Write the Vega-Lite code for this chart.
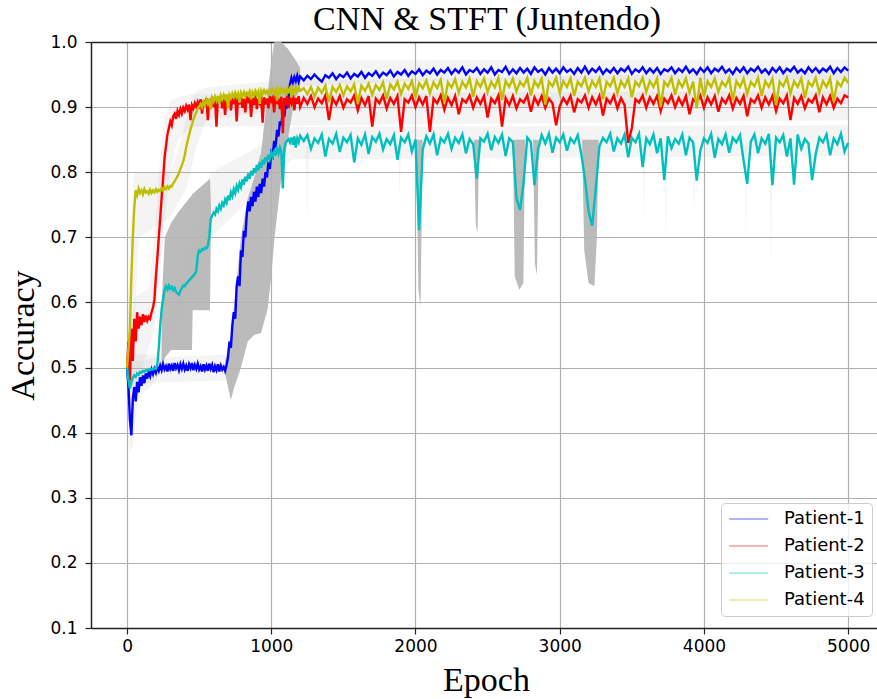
{
"$schema":"https://vega.github.io/schema/vega-lite/v6.json",
"width":786,"height":586,
"autosize":{"type":"none"},
"padding":{"left":91,"top":42,"right":0,"bottom":71},
"title":{"text":"CNN & STFT (Juntendo)","font":"Liberation Serif","fontSize":34,"fontWeight":"normal","color":"#000","anchor":"middle","offset":-4,"dx":3},
"config":{
"view":{"stroke":null},
"axis":{"domainColor":"#222","domainWidth":1.5,"tickColor":"#222","tickWidth":1.2,"tickSize":6,"gridColor":"#b0b0b0","gridWidth":1.2,"labelFont":"DejaVu Sans","labelFontSize":17,"labelColor":"#000","titleFont":"Liberation Serif","titleFontSize":34,"titleFontWeight":"normal","titleColor":"#000","labelFlush":false}
},
"datasets":{
"acc":[
{"e":0,"P1":0.500,"P2":0.500,"P3":0.500,"P4":0.500},
{"e":10,"P1":0.470,"P2":0.540,"P3":0.480,"P4":0.530},
{"e":20,"P1":0.420,"P2":0.480,"P3":0.468,"P4":0.560},
{"e":30,"P1":0.396,"P2":0.560,"P3":0.478,"P4":0.640},
{"e":40,"P1":0.452,"P2":0.510,"P3":0.484,"P4":0.700},
{"e":50,"P1":0.470,"P2":0.575,"P3":0.488,"P4":0.745},
{"e":60,"P1":0.448,"P2":0.540,"P3":0.486,"P4":0.772},
{"e":70,"P1":0.478,"P2":0.585,"P3":0.491,"P4":0.765},
{"e":80,"P1":0.462,"P2":0.560,"P3":0.489,"P4":0.775},
{"e":90,"P1":0.485,"P2":0.578,"P3":0.493,"P4":0.768},
{"e":100,"P1":0.472,"P2":0.565,"P3":0.492,"P4":0.772},
{"e":110,"P1":0.488,"P2":0.582,"P3":0.495,"P4":0.766},
{"e":120,"P1":0.476,"P2":0.570,"P3":0.494,"P4":0.774},
{"e":130,"P1":0.491,"P2":0.580,"P3":0.496,"P4":0.769},
{"e":140,"P1":0.483,"P2":0.572,"P3":0.495,"P4":0.771},
{"e":150,"P1":0.494,"P2":0.578,"P3":0.497,"P4":0.767},
{"e":160,"P1":0.487,"P2":0.575,"P3":0.496,"P4":0.773},
{"e":170,"P1":0.497,"P2":0.585,"P3":0.498,"P4":0.768},
{"e":180,"P1":0.490,"P2":0.592,"P3":0.497,"P4":0.772},
{"e":190,"P1":0.498,"P2":0.605,"P3":0.499,"P4":0.769},
{"e":200,"P1":0.492,"P2":0.640,"P3":0.498,"P4":0.774},
{"e":210,"P1":0.501,"P2":0.668,"P3":0.505,"P4":0.770},
{"e":220,"P1":0.495,"P2":0.700,"P3":0.530,"P4":0.773},
{"e":230,"P1":0.503,"P2":0.730,"P3":0.565,"P4":0.771},
{"e":240,"P1":0.496,"P2":0.762,"P3":0.590,"P4":0.776},
{"e":250,"P1":0.505,"P2":0.790,"P3":0.605,"P4":0.772},
{"e":260,"P1":0.497,"P2":0.822,"P3":0.618,"P4":0.777},
{"e":270,"P1":0.502,"P2":0.840,"P3":0.625,"P4":0.774},
{"e":280,"P1":0.494,"P2":0.858,"P3":0.620,"P4":0.778},
{"e":290,"P1":0.506,"P2":0.868,"P3":0.626,"P4":0.775},
{"e":300,"P1":0.498,"P2":0.878,"P3":0.621,"P4":0.779},
{"e":310,"P1":0.503,"P2":0.872,"P3":0.624,"P4":0.778},
{"e":320,"P1":0.495,"P2":0.886,"P3":0.619,"P4":0.783},
{"e":330,"P1":0.507,"P2":0.890,"P3":0.622,"P4":0.786},
{"e":340,"P1":0.499,"P2":0.882,"P3":0.616,"P4":0.790},
{"e":350,"P1":0.504,"P2":0.894,"P3":0.614,"P4":0.794},
{"e":360,"P1":0.496,"P2":0.888,"P3":0.612,"P4":0.799},
{"e":370,"P1":0.505,"P2":0.897,"P3":0.618,"P4":0.805},
{"e":380,"P1":0.498,"P2":0.890,"P3":0.622,"P4":0.811},
{"e":390,"P1":0.506,"P2":0.899,"P3":0.626,"P4":0.817},
{"e":400,"P1":0.497,"P2":0.894,"P3":0.625,"P4":0.826},
{"e":410,"P1":0.503,"P2":0.902,"P3":0.629,"P4":0.838},
{"e":420,"P1":0.495,"P2":0.896,"P3":0.631,"P4":0.848},
{"e":430,"P1":0.505,"P2":0.904,"P3":0.634,"P4":0.857},
{"e":440,"P1":0.499,"P2":0.880,"P3":0.636,"P4":0.866},
{"e":450,"P1":0.507,"P2":0.903,"P3":0.639,"P4":0.873},
{"e":460,"P1":0.496,"P2":0.898,"P3":0.641,"P4":0.881},
{"e":470,"P1":0.504,"P2":0.906,"P3":0.644,"P4":0.887},
{"e":480,"P1":0.498,"P2":0.900,"P3":0.648,"P4":0.892},
{"e":490,"P1":0.506,"P2":0.908,"P3":0.672,"P4":0.898},
{"e":500,"P1":0.497,"P2":0.902,"P3":0.680,"P4":0.901},
{"e":510,"P1":0.502,"P2":0.912,"P3":0.678,"P4":0.905},
{"e":520,"P1":0.494,"P2":0.890,"P3":0.682,"P4":0.900},
{"e":530,"P1":0.505,"P2":0.910,"P3":0.681,"P4":0.908},
{"e":540,"P1":0.497,"P2":0.903,"P3":0.684,"P4":0.903},
{"e":550,"P1":0.503,"P2":0.914,"P3":0.683,"P4":0.911},
{"e":560,"P1":0.495,"P2":0.880,"P3":0.687,"P4":0.905},
{"e":570,"P1":0.506,"P2":0.912,"P3":0.700,"P4":0.913},
{"e":580,"P1":0.498,"P2":0.905,"P3":0.728,"P4":0.896},
{"e":590,"P1":0.504,"P2":0.916,"P3":0.733,"P4":0.914},
{"e":600,"P1":0.493,"P2":0.900,"P3":0.738,"P4":0.909},
{"e":610,"P1":0.502,"P2":0.913,"P3":0.735,"P4":0.916},
{"e":620,"P1":0.496,"P2":0.870,"P3":0.744,"P4":0.910},
{"e":630,"P1":0.505,"P2":0.915,"P3":0.740,"P4":0.917},
{"e":640,"P1":0.494,"P2":0.906,"P3":0.749,"P4":0.905},
{"e":650,"P1":0.503,"P2":0.917,"P3":0.744,"P4":0.918},
{"e":660,"P1":0.497,"P2":0.898,"P3":0.753,"P4":0.912},
{"e":670,"P1":0.501,"P2":0.912,"P3":0.749,"P4":0.919},
{"e":680,"P1":0.495,"P2":0.888,"P3":0.758,"P4":0.913},
{"e":690,"P1":0.504,"P2":0.916,"P3":0.753,"P4":0.920},
{"e":700,"P1":0.515,"P2":0.907,"P3":0.764,"P4":0.898},
{"e":710,"P1":0.540,"P2":0.918,"P3":0.757,"P4":0.919},
{"e":720,"P1":0.530,"P2":0.895,"P3":0.769,"P4":0.914},
{"e":730,"P1":0.565,"P2":0.914,"P3":0.763,"P4":0.921},
{"e":740,"P1":0.585,"P2":0.905,"P3":0.774,"P4":0.915},
{"e":750,"P1":0.575,"P2":0.917,"P3":0.768,"P4":0.922},
{"e":760,"P1":0.625,"P2":0.878,"P3":0.779,"P4":0.916},
{"e":770,"P1":0.640,"P2":0.915,"P3":0.773,"P4":0.921},
{"e":780,"P1":0.625,"P2":0.904,"P3":0.783,"P4":0.907},
{"e":790,"P1":0.680,"P2":0.918,"P3":0.777,"P4":0.922},
{"e":800,"P1":0.670,"P2":0.899,"P3":0.789,"P4":0.917},
{"e":810,"P1":0.710,"P2":0.913,"P3":0.781,"P4":0.923},
{"e":820,"P1":0.700,"P2":0.892,"P3":0.793,"P4":0.916},
{"e":830,"P1":0.735,"P2":0.917,"P3":0.786,"P4":0.922},
{"e":840,"P1":0.755,"P2":0.906,"P3":0.798,"P4":0.918},
{"e":850,"P1":0.740,"P2":0.915,"P3":0.790,"P4":0.924},
{"e":860,"P1":0.762,"P2":0.885,"P3":0.802,"P4":0.912},
{"e":870,"P1":0.748,"P2":0.914,"P3":0.795,"P4":0.923},
{"e":880,"P1":0.770,"P2":0.903,"P3":0.806,"P4":0.918},
{"e":890,"P1":0.755,"P2":0.918,"P3":0.799,"P4":0.925},
{"e":900,"P1":0.778,"P2":0.897,"P3":0.811,"P4":0.919},
{"e":910,"P1":0.762,"P2":0.912,"P3":0.803,"P4":0.924},
{"e":920,"P1":0.782,"P2":0.906,"P3":0.815,"P4":0.905},
{"e":930,"P1":0.768,"P2":0.917,"P3":0.807,"P4":0.925},
{"e":940,"P1":0.790,"P2":0.876,"P3":0.819,"P4":0.920},
{"e":950,"P1":0.778,"P2":0.915,"P3":0.812,"P4":0.926},
{"e":960,"P1":0.800,"P2":0.904,"P3":0.823,"P4":0.921},
{"e":970,"P1":0.792,"P2":0.913,"P3":0.816,"P4":0.925},
{"e":980,"P1":0.815,"P2":0.898,"P3":0.827,"P4":0.919},
{"e":990,"P1":0.805,"P2":0.917,"P3":0.820,"P4":0.926},
{"e":1000,"P1":0.830,"P2":0.909,"P3":0.830,"P4":0.922},
{"e":1010,"P1":0.825,"P2":0.914,"P3":0.824,"P4":0.927},
{"e":1020,"P1":0.848,"P2":0.892,"P3":0.834,"P4":0.921},
{"e":1030,"P1":0.838,"P2":0.918,"P3":0.826,"P4":0.926},
{"e":1040,"P1":0.865,"P2":0.905,"P3":0.836,"P4":0.910},
{"e":1050,"P1":0.855,"P2":0.913,"P3":0.829,"P4":0.927},
{"e":1060,"P1":0.878,"P2":0.897,"P3":0.838,"P4":0.922},
{"e":1070,"P1":0.872,"P2":0.916,"P3":0.831,"P4":0.928},
{"e":1080,"P1":0.895,"P2":0.860,"P3":0.775,"P4":0.923},
{"e":1090,"P1":0.885,"P2":0.914,"P3":0.836,"P4":0.927},
{"e":1100,"P1":0.905,"P2":0.903,"P3":0.846,"P4":0.921},
{"e":1110,"P1":0.898,"P2":0.917,"P3":0.848,"P4":0.928},
{"e":1120,"P1":0.915,"P2":0.899,"P3":0.851,"P4":0.924},
{"e":1130,"P1":0.935,"P2":0.912,"P3":0.846,"P4":0.929},
{"e":1140,"P1":0.945,"P2":0.906,"P3":0.853,"P4":0.915},
{"e":1150,"P1":0.938,"P2":0.918,"P3":0.842,"P4":0.928},
{"e":1160,"P1":0.946,"P2":0.895,"P3":0.855,"P4":0.923},
{"e":1170,"P1":0.940,"P2":0.914,"P3":0.838,"P4":0.929},
{"e":1180,"P1":0.948,"P2":0.905,"P3":0.852,"P4":0.924},
{"e":1190,"P1":0.939,"P2":0.917,"P3":0.846,"P4":0.930},
{"e":1200,"P1":0.947,"P2":0.900,"P3":0.856,"P4":0.925},
{"e":1225,"P1":0.941,"P2":0.914,"P3":0.848,"P4":0.929},
{"e":1250,"P1":0.948,"P2":0.905,"P3":0.857,"P4":0.920},
{"e":1275,"P1":0.943,"P2":0.917,"P3":0.836,"P4":0.931},
{"e":1300,"P1":0.950,"P2":0.900,"P3":0.852,"P4":0.916},
{"e":1325,"P1":0.944,"P2":0.913,"P3":0.845,"P4":0.930},
{"e":1350,"P1":0.939,"P2":0.906,"P3":0.858,"P4":0.922},
{"e":1375,"P1":0.949,"P2":0.918,"P3":0.824,"P4":0.933},
{"e":1400,"P1":0.945,"P2":0.880,"P3":0.851,"P4":0.908},
{"e":1425,"P1":0.952,"P2":0.914,"P3":0.844,"P4":0.931},
{"e":1450,"P1":0.943,"P2":0.904,"P3":0.859,"P4":0.923},
{"e":1475,"P1":0.950,"P2":0.917,"P3":0.831,"P4":0.934},
{"e":1500,"P1":0.946,"P2":0.899,"P3":0.853,"P4":0.918},
{"e":1525,"P1":0.953,"P2":0.912,"P3":0.846,"P4":0.932},
{"e":1550,"P1":0.944,"P2":0.907,"P3":0.857,"P4":0.924},
{"e":1575,"P1":0.951,"P2":0.918,"P3":0.815,"P4":0.935},
{"e":1600,"P1":0.947,"P2":0.895,"P3":0.852,"P4":0.905},
{"e":1625,"P1":0.954,"P2":0.914,"P3":0.842,"P4":0.933},
{"e":1650,"P1":0.945,"P2":0.903,"P3":0.858,"P4":0.925},
{"e":1675,"P1":0.952,"P2":0.917,"P3":0.828,"P4":0.936},
{"e":1700,"P1":0.948,"P2":0.870,"P3":0.854,"P4":0.919},
{"e":1725,"P1":0.955,"P2":0.913,"P3":0.847,"P4":0.934},
{"e":1750,"P1":0.946,"P2":0.906,"P3":0.859,"P4":0.926},
{"e":1775,"P1":0.953,"P2":0.918,"P3":0.835,"P4":0.938},
{"e":1800,"P1":0.949,"P2":0.898,"P3":0.851,"P4":0.912},
{"e":1825,"P1":0.956,"P2":0.914,"P3":0.843,"P4":0.935},
{"e":1850,"P1":0.947,"P2":0.905,"P3":0.857,"P4":0.927},
{"e":1875,"P1":0.954,"P2":0.917,"P3":0.819,"P4":0.939},
{"e":1900,"P1":0.950,"P2":0.862,"P3":0.853,"P4":0.920},
{"e":1925,"P1":0.957,"P2":0.912,"P3":0.846,"P4":0.936},
{"e":1950,"P1":0.948,"P2":0.907,"P3":0.858,"P4":0.928},
{"e":1975,"P1":0.955,"P2":0.918,"P3":0.832,"P4":0.940},
{"e":2000,"P1":0.951,"P2":0.900,"P3":0.850,"P4":0.915},
{"e":2025,"P1":0.958,"P2":0.915,"P3":0.711,"P4":0.937},
{"e":2050,"P1":0.949,"P2":0.904,"P3":0.835,"P4":0.929},
{"e":2075,"P1":0.956,"P2":0.917,"P3":0.855,"P4":0.941},
{"e":2100,"P1":0.952,"P2":0.862,"P3":0.844,"P4":0.921},
{"e":2125,"P1":0.959,"P2":0.913,"P3":0.858,"P4":0.938},
{"e":2150,"P1":0.950,"P2":0.906,"P3":0.826,"P4":0.929},
{"e":2175,"P1":0.957,"P2":0.918,"P3":0.852,"P4":0.942},
{"e":2200,"P1":0.953,"P2":0.896,"P3":0.846,"P4":0.906},
{"e":2225,"P1":0.960,"P2":0.914,"P3":0.859,"P4":0.938},
{"e":2250,"P1":0.951,"P2":0.903,"P3":0.836,"P4":0.930},
{"e":2275,"P1":0.958,"P2":0.917,"P3":0.853,"P4":0.943},
{"e":2300,"P1":0.953,"P2":0.889,"P3":0.845,"P4":0.922},
{"e":2325,"P1":0.961,"P2":0.912,"P3":0.858,"P4":0.939},
{"e":2350,"P1":0.950,"P2":0.907,"P3":0.829,"P4":0.930},
{"e":2375,"P1":0.957,"P2":0.918,"P3":0.851,"P4":0.944},
{"e":2400,"P1":0.954,"P2":0.899,"P3":0.843,"P4":0.916},
{"e":2425,"P1":0.960,"P2":0.915,"P3":0.790,"P4":0.940},
{"e":2450,"P1":0.951,"P2":0.905,"P3":0.852,"P4":0.931},
{"e":2475,"P1":0.958,"P2":0.917,"P3":0.847,"P4":0.944},
{"e":2500,"P1":0.953,"P2":0.884,"P3":0.859,"P4":0.923},
{"e":2525,"P1":0.961,"P2":0.913,"P3":0.834,"P4":0.939},
{"e":2550,"P1":0.950,"P2":0.906,"P3":0.854,"P4":0.930},
{"e":2575,"P1":0.957,"P2":0.918,"P3":0.845,"P4":0.945},
{"e":2600,"P1":0.954,"P2":0.870,"P3":0.858,"P4":0.911},
{"e":2625,"P1":0.962,"P2":0.914,"P3":0.825,"P4":0.940},
{"e":2650,"P1":0.951,"P2":0.903,"P3":0.852,"P4":0.931},
{"e":2675,"P1":0.958,"P2":0.917,"P3":0.846,"P4":0.944},
{"e":2700,"P1":0.952,"P2":0.898,"P3":0.760,"P4":0.924},
{"e":2725,"P1":0.960,"P2":0.912,"P3":0.742,"P4":0.939},
{"e":2750,"P1":0.953,"P2":0.907,"P3":0.785,"P4":0.932},
{"e":2775,"P1":0.959,"P2":0.918,"P3":0.853,"P4":0.945},
{"e":2800,"P1":0.951,"P2":0.893,"P3":0.846,"P4":0.918},
{"e":2825,"P1":0.961,"P2":0.915,"P3":0.780,"P4":0.940},
{"e":2850,"P1":0.954,"P2":0.904,"P3":0.835,"P4":0.931},
{"e":2875,"P1":0.958,"P2":0.917,"P3":0.857,"P4":0.944},
{"e":2900,"P1":0.950,"P2":0.899,"P3":0.844,"P4":0.904},
{"e":2925,"P1":0.960,"P2":0.913,"P3":0.859,"P4":0.939},
{"e":2950,"P1":0.953,"P2":0.906,"P3":0.830,"P4":0.932},
{"e":2975,"P1":0.959,"P2":0.872,"P3":0.853,"P4":0.945},
{"e":3000,"P1":0.952,"P2":0.901,"P3":0.846,"P4":0.922},
{"e":3025,"P1":0.961,"P2":0.914,"P3":0.858,"P4":0.940},
{"e":3050,"P1":0.954,"P2":0.905,"P3":0.833,"P4":0.931},
{"e":3075,"P1":0.958,"P2":0.917,"P3":0.852,"P4":0.944},
{"e":3100,"P1":0.951,"P2":0.892,"P3":0.845,"P4":0.917},
{"e":3125,"P1":0.960,"P2":0.912,"P3":0.857,"P4":0.939},
{"e":3150,"P1":0.953,"P2":0.907,"P3":0.827,"P4":0.932},
{"e":3175,"P1":0.962,"P2":0.918,"P3":0.790,"P4":0.945},
{"e":3200,"P1":0.952,"P2":0.899,"P3":0.740,"P4":0.924},
{"e":3225,"P1":0.959,"P2":0.915,"P3":0.718,"P4":0.940},
{"e":3250,"P1":0.954,"P2":0.904,"P3":0.775,"P4":0.931},
{"e":3275,"P1":0.961,"P2":0.917,"P3":0.840,"P4":0.944},
{"e":3300,"P1":0.951,"P2":0.887,"P3":0.853,"P4":0.912},
{"e":3325,"P1":0.958,"P2":0.913,"P3":0.846,"P4":0.939},
{"e":3350,"P1":0.953,"P2":0.906,"P3":0.859,"P4":0.932},
{"e":3375,"P1":0.960,"P2":0.918,"P3":0.832,"P4":0.945},
{"e":3400,"P1":0.952,"P2":0.898,"P3":0.852,"P4":0.921},
{"e":3425,"P1":0.959,"P2":0.914,"P3":0.844,"P4":0.940},
{"e":3450,"P1":0.955,"P2":0.903,"P3":0.858,"P4":0.931},
{"e":3475,"P1":0.962,"P2":0.845,"P3":0.823,"P4":0.944},
{"e":3500,"P1":0.951,"P2":0.868,"P3":0.853,"P4":0.915},
{"e":3525,"P1":0.958,"P2":0.912,"P3":0.846,"P4":0.939},
{"e":3550,"P1":0.954,"P2":0.907,"P3":0.859,"P4":0.932},
{"e":3575,"P1":0.961,"P2":0.918,"P3":0.808,"P4":0.945},
{"e":3600,"P1":0.952,"P2":0.899,"P3":0.852,"P4":0.923},
{"e":3625,"P1":0.959,"P2":0.915,"P3":0.843,"P4":0.940},
{"e":3650,"P1":0.953,"P2":0.905,"P3":0.858,"P4":0.931},
{"e":3675,"P1":0.960,"P2":0.917,"P3":0.829,"P4":0.944},
{"e":3700,"P1":0.951,"P2":0.894,"P3":0.852,"P4":0.900},
{"e":3725,"P1":0.958,"P2":0.913,"P3":0.788,"P4":0.939},
{"e":3750,"P1":0.955,"P2":0.906,"P3":0.855,"P4":0.932},
{"e":3775,"P1":0.961,"P2":0.918,"P3":0.837,"P4":0.945},
{"e":3800,"P1":0.952,"P2":0.900,"P3":0.851,"P4":0.919},
{"e":3825,"P1":0.959,"P2":0.914,"P3":0.844,"P4":0.940},
{"e":3850,"P1":0.954,"P2":0.903,"P3":0.858,"P4":0.931},
{"e":3875,"P1":0.962,"P2":0.917,"P3":0.826,"P4":0.944},
{"e":3900,"P1":0.953,"P2":0.889,"P3":0.853,"P4":0.922},
{"e":3925,"P1":0.958,"P2":0.912,"P3":0.846,"P4":0.939},
{"e":3950,"P1":0.951,"P2":0.907,"P3":0.787,"P4":0.898},
{"e":3975,"P1":0.960,"P2":0.918,"P3":0.833,"P4":0.945},
{"e":4000,"P1":0.954,"P2":0.899,"P3":0.852,"P4":0.916},
{"e":4025,"P1":0.961,"P2":0.915,"P3":0.845,"P4":0.940},
{"e":4050,"P1":0.952,"P2":0.904,"P3":0.859,"P4":0.931},
{"e":4075,"P1":0.959,"P2":0.917,"P3":0.822,"P4":0.944},
{"e":4100,"P1":0.955,"P2":0.893,"P3":0.851,"P4":0.923},
{"e":4125,"P1":0.962,"P2":0.913,"P3":0.843,"P4":0.939},
{"e":4150,"P1":0.953,"P2":0.906,"P3":0.858,"P4":0.932},
{"e":4175,"P1":0.958,"P2":0.918,"P3":0.830,"P4":0.945},
{"e":4200,"P1":0.951,"P2":0.898,"P3":0.853,"P4":0.910},
{"e":4225,"P1":0.960,"P2":0.914,"P3":0.846,"P4":0.940},
{"e":4250,"P1":0.954,"P2":0.905,"P3":0.857,"P4":0.931},
{"e":4275,"P1":0.961,"P2":0.917,"P3":0.818,"P4":0.944},
{"e":4300,"P1":0.952,"P2":0.886,"P3":0.782,"P4":0.920},
{"e":4325,"P1":0.959,"P2":0.912,"P3":0.847,"P4":0.939},
{"e":4350,"P1":0.955,"P2":0.907,"P3":0.858,"P4":0.932},
{"e":4375,"P1":0.962,"P2":0.918,"P3":0.829,"P4":0.945},
{"e":4400,"P1":0.953,"P2":0.899,"P3":0.852,"P4":0.917},
{"e":4425,"P1":0.958,"P2":0.915,"P3":0.844,"P4":0.940},
{"e":4450,"P1":0.951,"P2":0.904,"P3":0.859,"P4":0.931},
{"e":4475,"P1":0.960,"P2":0.917,"P3":0.780,"P4":0.944},
{"e":4500,"P1":0.954,"P2":0.894,"P3":0.853,"P4":0.903},
{"e":4525,"P1":0.961,"P2":0.913,"P3":0.846,"P4":0.939},
{"e":4550,"P1":0.952,"P2":0.906,"P3":0.857,"P4":0.932},
{"e":4575,"P1":0.959,"P2":0.918,"P3":0.824,"P4":0.945},
{"e":4600,"P1":0.955,"P2":0.880,"P3":0.852,"P4":0.921},
{"e":4625,"P1":0.962,"P2":0.914,"P3":0.781,"P4":0.940},
{"e":4650,"P1":0.953,"P2":0.905,"P3":0.858,"P4":0.931},
{"e":4675,"P1":0.958,"P2":0.917,"P3":0.836,"P4":0.944},
{"e":4700,"P1":0.952,"P2":0.898,"P3":0.851,"P4":0.914},
{"e":4725,"P1":0.961,"P2":0.912,"P3":0.844,"P4":0.939},
{"e":4750,"P1":0.954,"P2":0.907,"P3":0.788,"P4":0.932},
{"e":4775,"P1":0.960,"P2":0.918,"P3":0.828,"P4":0.945},
{"e":4800,"P1":0.953,"P2":0.892,"P3":0.853,"P4":0.922},
{"e":4825,"P1":0.959,"P2":0.915,"P3":0.846,"P4":0.940},
{"e":4850,"P1":0.955,"P2":0.904,"P3":0.858,"P4":0.931},
{"e":4875,"P1":0.962,"P2":0.917,"P3":0.826,"P4":0.944},
{"e":4900,"P1":0.952,"P2":0.899,"P3":0.852,"P4":0.908},
{"e":4925,"P1":0.960,"P2":0.913,"P3":0.843,"P4":0.939},
{"e":4950,"P1":0.954,"P2":0.906,"P3":0.859,"P4":0.932},
{"e":4975,"P1":0.961,"P2":0.918,"P3":0.832,"P4":0.945},
{"e":5000,"P1":0.956,"P2":0.915,"P3":0.845,"P4":0.937}
],
"band":[
{"k":"h","g":"h1a","e":0,"lo":0.47,"hi":0.52},
{"k":"h","g":"h1a","e":20,"lo":0.37,"hi":0.50},
{"k":"h","g":"h1a","e":40,"lo":0.38,"hi":0.51},
{"k":"h","g":"h1a","e":70,"lo":0.44,"hi":0.51},
{"k":"h","g":"h1a","e":100,"lo":0.46,"hi":0.51},
{"k":"h","g":"h1a","e":200,"lo":0.477,"hi":0.515},
{"k":"h","g":"h1a","e":690,"lo":0.48,"hi":0.52},
{"k":"h","g":"h1b","e":1160,"lo":0.925,"hi":0.975},
{"k":"h","g":"h1b","e":1200,"lo":0.932,"hi":0.972},
{"k":"h","g":"h1b","e":2000,"lo":0.94,"hi":0.972},
{"k":"h","g":"h1b","e":5000,"lo":0.942,"hi":0.973},
{"k":"h","g":"h2","e":0,"lo":0.47,"hi":0.54},
{"k":"h","g":"h2","e":60,"lo":0.47,"hi":0.61},
{"k":"h","g":"h2","e":150,"lo":0.53,"hi":0.62},
{"k":"h","g":"h2","e":190,"lo":0.56,"hi":0.70},
{"k":"h","g":"h2","e":220,"lo":0.62,"hi":0.80},
{"k":"h","g":"h2","e":260,"lo":0.72,"hi":0.88},
{"k":"h","g":"h2","e":300,"lo":0.80,"hi":0.91},
{"k":"h","g":"h2","e":350,"lo":0.85,"hi":0.915},
{"k":"h","g":"h2","e":450,"lo":0.87,"hi":0.92},
{"k":"h","g":"h2","e":5000,"lo":0.88,"hi":0.925},
{"k":"h","g":"h4","e":0,"lo":0.47,"hi":0.53},
{"k":"h","g":"h4","e":25,"lo":0.47,"hi":0.72},
{"k":"h","g":"h4","e":50,"lo":0.55,"hi":0.80},
{"k":"h","g":"h4","e":80,"lo":0.70,"hi":0.80},
{"k":"h","g":"h4","e":300,"lo":0.73,"hi":0.80},
{"k":"h","g":"h4","e":350,"lo":0.75,"hi":0.83},
{"k":"h","g":"h4","e":420,"lo":0.78,"hi":0.89},
{"k":"h","g":"h4","e":480,"lo":0.84,"hi":0.925},
{"k":"h","g":"h4","e":550,"lo":0.88,"hi":0.93},
{"k":"h","g":"h4","e":1000,"lo":0.895,"hi":0.94},
{"k":"h","g":"h4","e":5000,"lo":0.905,"hi":0.955},
{"k":"h","g":"h3","e":0,"lo":0.46,"hi":0.52},
{"k":"h","g":"h3","e":200,"lo":0.48,"hi":0.52},
{"k":"h","g":"h3","e":582,"lo":0.70,"hi":0.80},
{"k":"h","g":"h3","e":1000,"lo":0.79,"hi":0.85},
{"k":"h","g":"h3","e":1150,"lo":0.82,"hi":0.87},
{"k":"h","g":"h3","e":5000,"lo":0.825,"hi":0.872},
{"k":"h","g":"s1","e":1240,"lo":0.84,"hi":0.84},
{"k":"h","g":"s1","e":1250,"lo":0.72,"hi":0.84},
{"k":"h","g":"s1","e":1260,"lo":0.84,"hi":0.84},
{"k":"h","g":"s2","e":1880,"lo":0.84,"hi":0.84},
{"k":"h","g":"s2","e":1890,"lo":0.76,"hi":0.84},
{"k":"h","g":"s2","e":1900,"lo":0.84,"hi":0.84},
{"k":"h","g":"s3","e":3575,"lo":0.84,"hi":0.84},
{"k":"h","g":"s3","e":3585,"lo":0.727,"hi":0.84},
{"k":"h","g":"s3","e":3595,"lo":0.84,"hi":0.84},
{"k":"h","g":"s4","e":3727,"lo":0.84,"hi":0.84},
{"k":"h","g":"s4","e":3737,"lo":0.685,"hi":0.84},
{"k":"h","g":"s4","e":3747,"lo":0.84,"hi":0.84},
{"k":"h","g":"s5","e":3922,"lo":0.84,"hi":0.84},
{"k":"h","g":"s5","e":3932,"lo":0.73,"hi":0.84},
{"k":"h","g":"s5","e":3942,"lo":0.84,"hi":0.84},
{"k":"h","g":"s6","e":4281,"lo":0.84,"hi":0.84},
{"k":"h","g":"s6","e":4291,"lo":0.69,"hi":0.84},
{"k":"h","g":"s6","e":4301,"lo":0.84,"hi":0.84},
{"k":"h","g":"s7","e":4455,"lo":0.84,"hi":0.84},
{"k":"h","g":"s7","e":4465,"lo":0.645,"hi":0.84},
{"k":"h","g":"s7","e":4475,"lo":0.84,"hi":0.84},
{"k":"s","g":"b1","e":680,"lo":0.49,"hi":0.51},
{"k":"s","g":"b1","e":720,"lo":0.45,"hi":0.55},
{"k":"s","g":"b1","e":744,"lo":0.47,"hi":0.60},
{"k":"s","g":"b1","e":790,"lo":0.50,"hi":0.70},
{"k":"s","g":"b1","e":837,"lo":0.54,"hi":0.76},
{"k":"s","g":"b1","e":880,"lo":0.55,"hi":0.79},
{"k":"s","g":"b1","e":929,"lo":0.553,"hi":0.83},
{"k":"s","g":"b1","e":975,"lo":0.59,"hi":0.92},
{"k":"s","g":"b1","e":1000,"lo":0.64,"hi":0.97},
{"k":"s","g":"b1","e":1021,"lo":0.696,"hi":1.0},
{"k":"s","g":"b1","e":1068,"lo":0.788,"hi":1.0},
{"k":"s","g":"b1","e":1114,"lo":0.85,"hi":0.99},
{"k":"s","g":"b1","e":1160,"lo":0.91,"hi":0.975},
{"k":"s","g":"b1","e":1200,"lo":0.93,"hi":0.96},
{"k":"s","g":"b3","e":240,"lo":0.50,"hi":0.60},
{"k":"s","g":"b3","e":262,"lo":0.515,"hi":0.70},
{"k":"s","g":"b3","e":305,"lo":0.527,"hi":0.722},
{"k":"s","g":"b3","e":360,"lo":0.527,"hi":0.74},
{"k":"s","g":"b3","e":450,"lo":0.527,"hi":0.765},
{"k":"s","g":"b3","e":455,"lo":0.588,"hi":0.767},
{"k":"s","g":"b3","e":575,"lo":0.588,"hi":0.79},
{"k":"s","g":"b3","e":582,"lo":0.72,"hi":0.75},
{"k":"s","g":"d1","e":2005,"lo":0.85,"hi":0.85},
{"k":"s","g":"d1","e":2020,"lo":0.62,"hi":0.85},
{"k":"s","g":"d1","e":2035,"lo":0.593,"hi":0.85},
{"k":"s","g":"d1","e":2050,"lo":0.85,"hi":0.85},
{"k":"s","g":"d2","e":2405,"lo":0.85,"hi":0.85},
{"k":"s","g":"d2","e":2418,"lo":0.72,"hi":0.85},
{"k":"s","g":"d2","e":2430,"lo":0.706,"hi":0.85},
{"k":"s","g":"d2","e":2442,"lo":0.85,"hi":0.85},
{"k":"s","g":"d3","e":2675,"lo":0.85,"hi":0.85},
{"k":"s","g":"d3","e":2688,"lo":0.64,"hi":0.85},
{"k":"s","g":"d3","e":2720,"lo":0.619,"hi":0.85},
{"k":"s","g":"d3","e":2748,"lo":0.63,"hi":0.85},
{"k":"s","g":"d3","e":2760,"lo":0.85,"hi":0.85},
{"k":"s","g":"d4","e":2815,"lo":0.85,"hi":0.85},
{"k":"s","g":"d4","e":2828,"lo":0.66,"hi":0.85},
{"k":"s","g":"d4","e":2842,"lo":0.642,"hi":0.85},
{"k":"s","g":"d4","e":2855,"lo":0.85,"hi":0.85},
{"k":"s","g":"d5","e":3155,"lo":0.85,"hi":0.85},
{"k":"s","g":"d5","e":3170,"lo":0.68,"hi":0.85},
{"k":"s","g":"d5","e":3200,"lo":0.63,"hi":0.85},
{"k":"s","g":"d5","e":3240,"lo":0.625,"hi":0.85},
{"k":"s","g":"d5","e":3258,"lo":0.70,"hi":0.85},
{"k":"s","g":"d5","e":3270,"lo":0.85,"hi":0.85}
]
},
"resolve":{"axis":{"x":"independent"}},
"layer":[
{
"data":{"name":"band"},
"transform":[{"filter":"datum.k == 'h'"}],
"mark":{"type":"area","fill":"#b4b4b4","opacity":0.15,"clip":true},
"encoding":{
"x":{"field":"e","type":"quantitative","scale":{"domain":[-250,5200],"nice":false,"zero":false},"axis":{"orient":"bottom","values":[0,1000,2000,3000,4000,5000],"format":"d","grid":true,"labelPadding":4,"title":"Epoch","titleX":395,"titleY":62,"titleBaseline":"alphabetic"}},
"y":{"field":"lo","type":"quantitative","scale":{"domain":[0.1,1.0],"nice":false,"zero":false},"axis":{"values":[0.1,0.2,0.3,0.4,0.5,0.6,0.7,0.8,0.9,1.0],"format":".1f","grid":true,"labelPadding":8,"title":"Accuracy","titleAngle":-90,"titleX":-58,"titleY":293,"titleBaseline":"alphabetic","titleAlign":"center"}},
"y2":{"field":"hi"},
"detail":{"field":"g"}
}
},
{
"data":{"name":"band"},
"transform":[{"filter":"datum.k == 's'"}],
"mark":{"type":"area","fill":"#b4b4b4","opacity":0.9,"clip":true},
"encoding":{
"x":{"field":"e","type":"quantitative","scale":{"domain":[-250,5200],"nice":false,"zero":false},"axis":null},
"y":{"field":"lo","type":"quantitative","scale":{"domain":[0.1,1.0],"nice":false,"zero":false},"axis":{"values":[0.1,0.2,0.3,0.4,0.5,0.6,0.7,0.8,0.9,1.0],"format":".1f","grid":true,"labelPadding":8,"title":"Accuracy","titleAngle":-90,"titleX":-58,"titleY":293,"titleBaseline":"alphabetic","titleAlign":"center"}},
"y2":{"field":"hi"},
"detail":{"field":"g"}
}
},
{
"data":{"name":"acc"},
"transform":[{"fold":["P1","P2","P3","P4"],"as":["patient","acc"]}],
"mark":{"type":"line","strokeWidth":2.4,"clip":true},
"encoding":{
"x":{"field":"e","type":"quantitative","scale":{"domain":[-250,5200],"nice":false,"zero":false},"axis":{"orient":"top","labels":false,"ticks":false,"grid":false,"title":null,"domain":true}},
"y":{"field":"acc","type":"quantitative","scale":{"domain":[0.1,1.0],"nice":false,"zero":false},"axis":{"values":[0.1,0.2,0.3,0.4,0.5,0.6,0.7,0.8,0.9,1.0],"format":".1f","grid":true,"labelPadding":8,"title":"Accuracy","titleAngle":-90,"titleX":-58,"titleY":293,"titleBaseline":"alphabetic","titleAlign":"center"}},
"color":{"field":"patient","type":"nominal","scale":{"domain":["P1","P2","P3","P4"],"range":["#0000ff","#ff0000","#00bfbf","#bfbf00"]},
"legend":{"orient":"none","legendX":630,"legendY":461,"title":null,"symbolType":"M-1,0H4","symbolSize":243,"symbolStrokeWidth":1.2,"symbolOpacity":0.6,"labelFont":"DejaVu Sans","labelFontSize":18,"labelColor":"#000","labelOffset":38,"rowPadding":9,"padding":7,"fillColor":"rgba(255,255,255,0.8)","strokeColor":"#cccccc","cornerRadius":4,"labelExpr":"replace(datum.label, 'P', 'Patient-')"}}
}
}
]
}
